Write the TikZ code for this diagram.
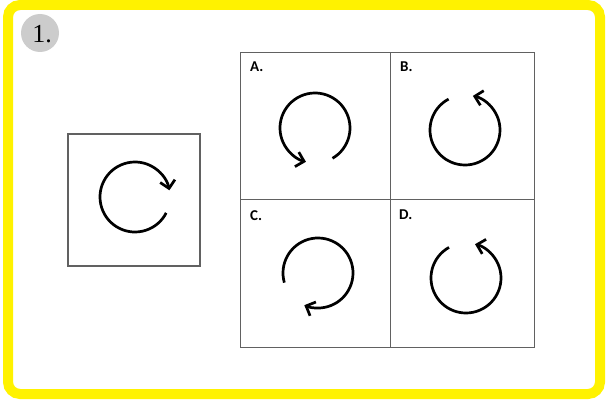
\documentclass[tikz,border=0pt]{standalone}
\usepackage{fontspec}
\newfontfamily\labelfont{Carlito}
\newfontfamily\badgefont{Liberation Serif}
\usetikzlibrary{arrows.meta}

\begin{document}
\begin{tikzpicture}[
    x=1pt, y=1pt,
    panel/.style={draw=black!62, line width=1.3pt, inner sep=0pt}, % Style for the boxes
    turn/.style={line width=2.7pt, -{Straight Barb[length=7.5pt, width=15pt]}}, % Style for the arrows
    optlabel/.style={anchor=base west, inner sep=0pt, font=\labelfont\bfseries\fontsize{15}{15}\selectfont}
]

    \def\rad{35} % Radius of every arrow circle
    \useasboundingbox (0,0) rectangle (606,400);

    % --- Frame and number badge ---
    \draw[yellow, line width=10pt, rounded corners=12pt] (8,6) rectangle (600,395);
    \fill[black!20] (40,367) circle (19);
    \node[inner sep=0pt, font=\badgefont\fontsize{26}{26}\selectfont] (badge) at (42,366) {1.};

    % --- Question box ---
    \node[panel, minimum width=132, minimum height=132] (question) at (134,200) {};
    \draw[turn] ([shift={(-27:\rad)}]135,203) arc[start angle=-27, end angle=-349, radius=\rad];

    % --- Answer boxes ---
    \node[panel, minimum width=150, minimum height=147, anchor=north west] (optA) at (240,348) {};
    \node[panel, minimum width=144, minimum height=147, anchor=north west] (optB) at (390,348) {};
    \node[panel, minimum width=150, minimum height=148, anchor=north west] (optC) at (240,201) {};
    \node[panel, minimum width=144, minimum height=148, anchor=north west] (optD) at (390,201) {};

    \node[optlabel] (labA) at (250,328) {A.};
    \node[optlabel] (labB) at (400,328) {B.};
    \node[optlabel] (labC) at (250,180) {C.};
    \node[optlabel] (labD) at (399,181) {D.};

    % Arrows: center / start angle / end angle
    \foreach \cx/\cy/\sa/\ea in {315/272/-60/255, 465/270/118/437, 318/127/196/-113, 466/122/119/435} {
        \draw[turn] ([shift={(\sa:\rad)}]\cx,\cy) arc[start angle=\sa, end angle=\ea, radius=\rad];
    }
\end{tikzpicture}
\end{document}
